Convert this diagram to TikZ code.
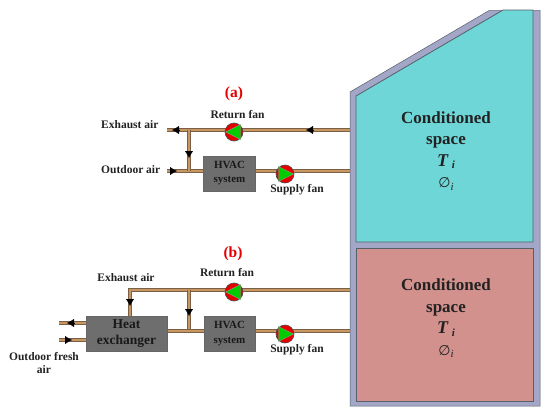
\documentclass[tikz,border=0pt]{standalone}
\usepackage{fontspec}
\setmainfont{Liberation Serif}
\newfontfamily\symfont{DejaVu Sans}
\usetikzlibrary{arrows.meta}
\definecolor{wallc}{HTML}{A3A6C6}
\definecolor{walle}{HTML}{55606A}
\definecolor{pipec}{HTML}{C8965F}
\definecolor{pipee}{HTML}{7A6048}
\definecolor{roomA}{HTML}{6ED6D6}
\definecolor{roomB}{HTML}{D3918D}
\definecolor{boxc}{HTML}{6E6E6E}
\definecolor{txtc}{HTML}{222222}
\tikzset{
  x=1pt,y=-1pt,
  pipe/.style={draw=pipee,line width=4pt,line cap=butt},
  pipein/.style={draw=pipec,line width=2.8pt,line cap=butt},
  equip/.style={draw=black!60,fill=boxc,line width=.7pt,inner sep=0pt,align=center,text=black!90},
  lab/.style={font=\bfseries\fontsize{11.5}{13}\selectfont,text=txtc,inner sep=0pt,align=center},
  title/.style={font=\bfseries\fontsize{15.5}{17}\selectfont,text=red!90!black,inner sep=0pt},
  room/.style={font=\bfseries\fontsize{17}{21.5}\selectfont,text=txtc,inner sep=0pt,align=center},
  tip/.style={-{Latex[length=7pt,width=8pt,black]},draw=black,line width=.2pt},
  fancirc/.style={circle,draw=black!70,fill=red!90!black,line width=.6pt,minimum size=18pt,inner sep=0pt},
  fantri/.style={fill=green!80!black,draw=black!40,line width=.3pt},
}
\newcommand{\rightfan}[2]{\node[fancirc] (#1) at (#2) {};
  \fill[fantri] ([xshift=-6.5pt,yshift=7.5pt]#1.center) -- ([xshift=-6.5pt,yshift=-7.5pt]#1.center) -- ([xshift=8.5pt]#1.center) -- cycle;}
\newcommand{\leftfan}[2]{\node[fancirc] (#1) at (#2) {};
  \fill[fantri] ([xshift=6.5pt,yshift=7.5pt]#1.center) -- ([xshift=6.5pt,yshift=-7.5pt]#1.center) -- ([xshift=-8.5pt]#1.center) -- cycle;}
\newcommand{\duct}[1]{\draw[pipe] #1; \draw[pipein] #1;}
\newcommand{\roomtext}{Conditioned\\space\\{\fontsize{18}{20}\selectfont\textit{T}\,\raisebox{-2.5pt}{\fontsize{11}{12}\selectfont\textit{i}}}\\{\mdseries\fontsize{14}{14}\selectfont{\symfont ∅}\raisebox{-2.5pt}{\fontsize{11}{12}\selectfont\textit{i}}}}
\begin{document}
\begin{tikzpicture}
\useasboundingbox[fill=white] (0,0) rectangle (550,418);
% building
\fill[wallc,draw=walle,line width=.5pt] (350,92) -- (490,10) -- (540,10) -- (540,406) -- (350,406) -- cycle;
\fill[white] (480,0) rectangle (550,10);
\fill[roomA,draw=walle,line width=.8pt] (356,96) -- (503,10) -- (533,10) -- (533,242) -- (356,242) -- cycle;
\fill[roomB,draw=walle,line width=.8pt] (356,248) rectangle (533,401);
\node[room] (roomtxtA) at (446,151) {\roomtext};
\node[room] (roomtxtB) at (446,318.5) {\roomtext};
% anchors
\coordinate (wa1) at (350,130); \coordinate (wa2) at (350,171);
\coordinate (wb1) at (350,290); \coordinate (wb2) at (350,331);
\coordinate (ex) at (167,130); \coordinate (ou) at (167,171);
\coordinate (ja1) at (189,130); \coordinate (ja2) at (189,171);
\coordinate (jb1) at (189,290); \coordinate (jb2) at (189,331);
\coordinate (cb) at (130,290);
\coordinate (hx1) at (59,323); \coordinate (hx2) at (59,340);
\coordinate (hx1e) at (86,323); \coordinate (hx2e) at (86,340);
% ducts (a)
\duct{(ex) -- (wa1)}
\duct{(ou) -- (203,171)}
\duct{(ja1) -- (ja2)}
\duct{(256,171) -- (wa2)}
% ducts (b)
\duct{(130,316) -- (cb) -- (wb1)}
\duct{(jb1) -- (jb2)}
\duct{(167,331) -- (204,331)}
\duct{(255,331) -- (wb2)}
\duct{(hx1) -- (hx1e)}
\duct{(hx2) -- (hx2e)}
% equipment
\node[equip,minimum width=52pt,minimum height=35pt,font=\bfseries\fontsize{11}{15}\selectfont] (hvacA) at (229.5,173.5) {\raisebox{-1pt}{HVAC}\\\raisebox{0pt}{system}};
\node[equip,minimum width=51pt,minimum height=35pt,font=\bfseries\fontsize{11}{14.5}\selectfont] (hvacB) at (229.5,333.5) {HVAC\\system};
\node[equip,minimum width=81pt,minimum height=35pt,font=\bfseries\fontsize{13.5}{16}\selectfont] (heat) at (126.5,333.5) {\raisebox{-2.5pt}{Heat}\\\raisebox{-2.5pt}{exchanger}};
% fans
\leftfan{fanRA}{234,132}
\rightfan{fanSA}{285,174}
\leftfan{fanRB}{234,292}
\rightfan{fanSB}{285,334}
% arrows
\draw[tip] (179,130) -- (172,130);
\draw[tip] (313,130) -- (306,130);
\draw[tip] (170,171) -- (177,171);
\draw[tip] (189,151) -- (189,158);
\draw[tip] (130,299) -- (130,306);
\draw[tip] (189,309) -- (189,316);
\draw[tip] (74,323) -- (67,323);
\draw[tip] (65,340) -- (72,340);
% labels
\node[lab,anchor=west] (l1) at (101,125) {Exhaust air};
\node[lab,anchor=west] (l2) at (101,169.5) {Outdoor air};
\node[lab] (l3) at (237.5,114.5) {Return fan};
\node[lab] (l4) at (297,189.5) {Supply fan};
\node[lab] (l5) at (126,278) {Exhaust air};
\node[lab] (l6) at (227,273) {Return fan};
\node[lab] (l7) at (297,350) {Supply fan};
\node[lab] (l8) at (44,363) {Outdoor fresh\\air};
\node[title] (ta) at (234,94) {(a)};
\node[title] (tb) at (233,254) {(b)};
\end{tikzpicture}
\end{document}
